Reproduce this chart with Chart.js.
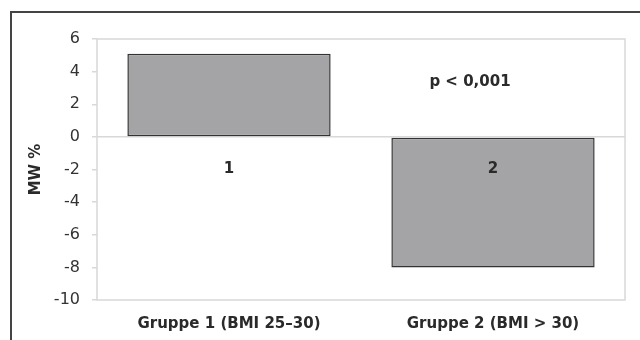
<!DOCTYPE html>
<html>
<head>
<meta charset="utf-8">
<script src="https://cdn.jsdelivr.net/npm/chart.js@4"></script>
<style>
  html, body { margin: 0; padding: 0; background: #fff; }
  #wrap { width: 640px; height: 340px; }
</style>
</head>
<body>
<div id="wrap"><canvas id="mwChart" width="640" height="340"></canvas></div>
<script>
var groups = ['Gruppe 1 (BMI 25–30)', 'Gruppe 2 (BMI > 30)'];
var mwValues = [5.1, -8.0];
var barNumbers = ['1', '2'];
var yTicks = [-10, -8, -6, -4, -2, 0, 2, 4, 6];

var fontName = '"DejaVu Sans", Verdana, sans-serif';

// outer frame (left + top only), light frame around the plot, texts in the plot
var framePlugin = {
	id: 'frame',
	beforeDraw: function (chart) {
		var c = chart.ctx;
		var a = chart.chartArea;
		c.save();
		c.fillStyle = '#fff';
		c.fillRect(0, 0, chart.width, chart.height);
		c.strokeStyle = '#d8d8d8';
		c.lineWidth = 1.5;
		c.strokeRect(a.left, a.top, a.right - a.left, a.bottom - a.top);
		c.restore();
	},
	afterDraw: function (chart) {
		var c = chart.ctx;
		c.save();
		c.strokeStyle = '#444';
		c.lineWidth = 2;
		c.beginPath();
		c.moveTo(11, chart.height);
		c.lineTo(11, 12);
		c.lineTo(chart.width, 12);
		c.stroke();

		var x = chart.scales.x, y = chart.scales.y;
		c.fillStyle = '#2a2a2a';
		c.font = 'bold 15px ' + fontName;
		c.textAlign = 'center';
		c.textBaseline = 'middle';
		barNumbers.forEach(function (t, i) {
			c.fillText(t, x.getPixelForValue(i), y.getPixelForValue(-2));
		});
		c.fillText('p < 0,001', x.getPixelForValue(1) - 23, y.getPixelForValue(3.35));
		c.restore();
	}
};

var ctx = document.getElementById('mwChart').getContext('2d');
var mwChart = new Chart(ctx, {
	type: 'bar',
	data: {
		labels: groups,
		datasets: [
			{
				label: 'MW %',
				data: mwValues,
				backgroundColor: '#a4a4a6',
				borderColor: '#333',
				borderWidth: 1.5,
				borderSkipped: false,
				barPercentage: 0.77,
				categoryPercentage: 1
			}
		]
	},
	options: {
		responsive: false,
		animation: false,
		layout: { padding: { top: 39, right: 15, left: 27, bottom: 0 } },
		plugins: {
			legend: { display: false },
			tooltip: { enabled: false }
		},
		scales: {
			x: {
				grid: { display: false },
				border: { display: false },
				ticks: {
					color: '#2a2a2a',
					padding: 7,
					font: { size: 15, weight: 'bold', family: fontName }
				},
				afterFit: function (s) { s.height = 40; }
			},
			y: {
				min: -10,
				max: 6,
				afterBuildTicks: function (s) {
					s.ticks = yTicks.map(function (v) { return { value: v }; });
				},
				border: { display: false },
				grid: {
					color: function (c) { return c.tick && c.tick.value === 0 ? '#d8d8d8' : 'rgba(0,0,0,0)'; },
					lineWidth: 1.5,
					tickColor: '#d8d8d8',
					tickLength: 5
				},
				ticks: {
					color: '#333',
					padding: 12,
					font: { size: 16, family: fontName }
				},
				title: {
					display: true,
					text: 'MW %',
					color: '#2a2a2a',
					font: { size: 15, weight: 'bold', family: fontName },
					padding: { top: 0, bottom: 0 }
				},
				afterFit: function (s) { s.width = 70; }
			}
		}
	},
	plugins: [framePlugin]
});
</script>
</body>
</html>
